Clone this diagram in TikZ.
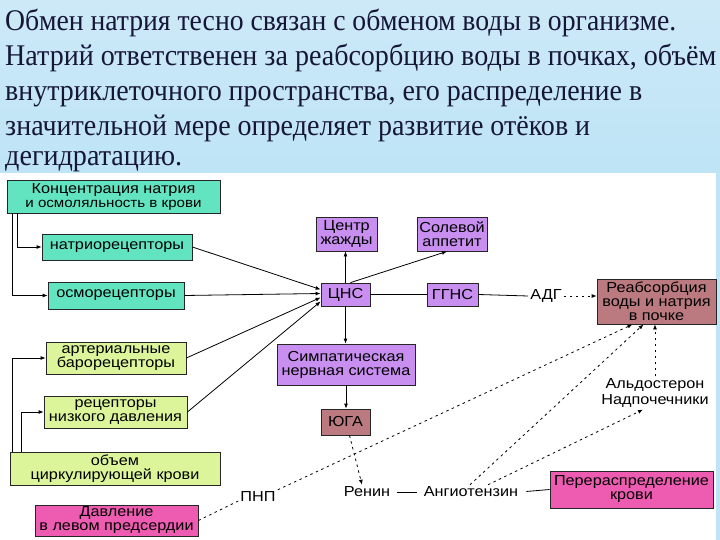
\documentclass[tikz,border=0pt]{standalone}
\usepackage{fontspec}
\usepackage{graphicx}
\setmainfont{Liberation Sans}[FakeStretch=1.12]
\newfontfamily\titlefont{Liberation Serif}
\usetikzlibrary{arrows.meta}
\definecolor{tealbox}{RGB}{98,228,192}
\definecolor{limebox}{RGB}{220,245,155}
\definecolor{violbox}{RGB}{200,142,240}
\definecolor{rosebox}{RGB}{186,122,127}
\definecolor{pinkbox}{RGB}{238,92,178}
\definecolor{titlecol}{RGB}{22,22,55}
\definecolor{skytop}{RGB}{205,233,247}
\definecolor{skymid}{RGB}{232,245,251}
\definecolor{skybot}{RGB}{190,228,246}
\tikzset{
 box/.style={draw=black!85, line width=0.8pt, inner sep=1pt, align=center, font=\fontsize{14.5}{14}\selectfont, text=black},
 lbl/.style={inner sep=2pt, align=center, font=\fontsize{14.5}{16}\selectfont, text=black},
 conn/.style={line width=0.8pt, draw=black},
 gapline/.style={conn, shorten <=5pt, shorten >=5pt},
 arr/.style={conn, -{Latex[length=5pt,width=4pt]}},
 dsh/.style={conn, dash pattern=on 2.5pt off 3.5pt},
 darr/.style={dsh, -{Latex[length=5pt,width=4pt]}},
 tline/.style={anchor=base west, inner sep=0pt, text=titlecol}
}
\begin{document}
\begin{tikzpicture}[x=1pt,y=-1pt]
\useasboundingbox (0,0) rectangle (720,540);
\fill[top color=skytop, middle color=skymid, bottom color=skybot] (0,0) rectangle (720,173);
\fill[white] (0,173) rectangle (716,540);
\fill[skybot] (716,173) rectangle (720,540);
% title
\node[tline] (t1) at (5,31) {\resizebox{671pt}{\height}{\titlefont\fontsize{30}{32}\selectfont Обмен натрия тесно связан с обменом воды в организме.}};
\node[tline] (t2) at (5,66) {\resizebox{711pt}{\height}{\titlefont\fontsize{30}{32}\selectfont Натрий ответственен за реабсорбцию воды в почках, объём}};
\node[tline] (t3) at (5,101) {\resizebox{637pt}{\height}{\titlefont\fontsize{30}{32}\selectfont внутриклеточного пространства, его распределение в}};
\node[tline] (t4) at (5,136) {\resizebox{585pt}{\height}{\titlefont\fontsize{30}{32}\selectfont значительной мере определяет развитие отёков и}};
\node[tline] (t5) at (5,166) {\resizebox{177pt}{\height}{\titlefont\fontsize{30}{32}\selectfont дегидратацию.}};
% boxes
\node[box, fill=tealbox, minimum width=213pt, minimum height=33pt] (konc) at (113.5,196.5) {Концентрация натрия\\{\fontsize{13.5}{13}\selectfont и осмоляльность в крови}};
\node[box, fill=tealbox, minimum width=150pt, minimum height=26pt] (natrio) at (117,247) {натриорецепторы};
\node[box, fill=tealbox, minimum width=136pt, minimum height=27pt] (osmo) at (116,295.5) {осморецепторы};
\node[box, fill=limebox, minimum width=140pt, minimum height=32pt] (arter) at (116,358) {артериальные\\барорецепторы};
\node[box, fill=limebox, minimum width=143pt, minimum height=32pt] (nizk) at (115.5,412) {рецепторы\\низкого давления};
\node[box, fill=limebox, minimum width=210pt, minimum height=33pt] (obem) at (115,468.5) {объем\\циркулирующей крови};
\node[box, fill=pinkbox, minimum width=163pt, minimum height=31pt] (davl) at (116.5,520.5) {Давление\\в левом предсердии};
\node[box, fill=violbox, minimum width=61pt, minimum height=34pt] (centr) at (346.5,234) {Центр\\жажды};
\node[box, fill=violbox, minimum width=70pt, minimum height=34pt] (solev) at (452,234) {Солевой\\аппетит};
\node[box, fill=violbox, minimum width=49pt, minimum height=23pt] (cns) at (345.5,294.5) {ЦНС};
\node[box, fill=violbox, minimum width=51pt, minimum height=23pt] (ggns) at (452.5,294.5) {ГГНС};
\node[box, fill=violbox, minimum width=138pt, minimum height=41pt] (simp) at (346,364.5) {Симпатическая\\нервная система};
\node[box, fill=rosebox, minimum width=49pt, minimum height=26pt] (yuga) at (345.5,422) {ЮГА};
\node[box, fill=rosebox, minimum width=119pt, minimum height=45pt] (reab) at (656.5,301.5) {Реабсорбция\\воды и натрия\\в почке};
\node[box, fill=pinkbox, minimum width=163pt, minimum height=37pt] (perer) at (631.5,489.5) {Перераспределение\\крови};
% free labels
\node[lbl] (adg) at (546,296) {АДГ};
\node[lbl] (aldo) at (655,393) {Альдостерон\\Надпочечники};
\node[lbl] (renin) at (367,492) {Ренин};
\node[lbl] (angio) at (471,492) {Ангиотензин};
\node[lbl] (pnp) at (258,497) {ПНП};
% connectors
\draw[arr] ([xshift=6pt]konc.south west) |- (osmo.west);
\draw[arr] ([xshift=11pt]konc.south west) |- (natrio.west);
\draw[arr] ([xshift=3pt]obem.north west) |- (arter.west);
\draw[arr] ([xshift=12pt]obem.north west) |- (nizk.west);
\draw[arr] (natrio.east) -- ([yshift=5pt]cns.west);
\draw[arr] (osmo.east) -- ([yshift=1pt]cns.west);
\draw[arr] (arter.east) -- ([yshift=-3pt]cns.west);
\draw[arr] (nizk.east) -- ([yshift=-7pt]cns.west);
\draw[arr] (cns.north) -- (cns.north |- centr.south);
\draw[arr] ([xshift=5pt]cns.north) -- ([xshift=-5pt]solev.south);
\draw[conn] (cns.east) -- (ggns.west);
\draw[conn] (ggns.east) -- (adg.west);
\draw[darr] (adg.east) -- (reab.west |- adg.east);
\draw[arr] (cns.south) -- (cns.south |- simp.north);
\draw[arr] (simp.south) -- (simp.south |- yuga.north);
\draw[darr] ([xshift=4pt]yuga.south) -- ([xshift=-5pt]renin.north);
\draw[gapline] (renin.east) -- (angio.west);
\draw[conn, shorten <=6pt] (angio.east) -- (perer.west);
\draw[dsh] (davl.east) -- ([yshift=-4pt]pnp.west);
\draw[darr] (pnp.north east) -- ([xshift=-24pt]reab.south);
\draw[darr] ([xshift=-1pt]angio.north) -- ([xshift=-13pt]reab.south);
\draw[darr] ([xshift=17pt]angio.north) -- ([xshift=-12pt]aldo.south);
\draw[darr] (aldo.north) -- (reab.south -| aldo.north);
\end{tikzpicture}
\end{document}
